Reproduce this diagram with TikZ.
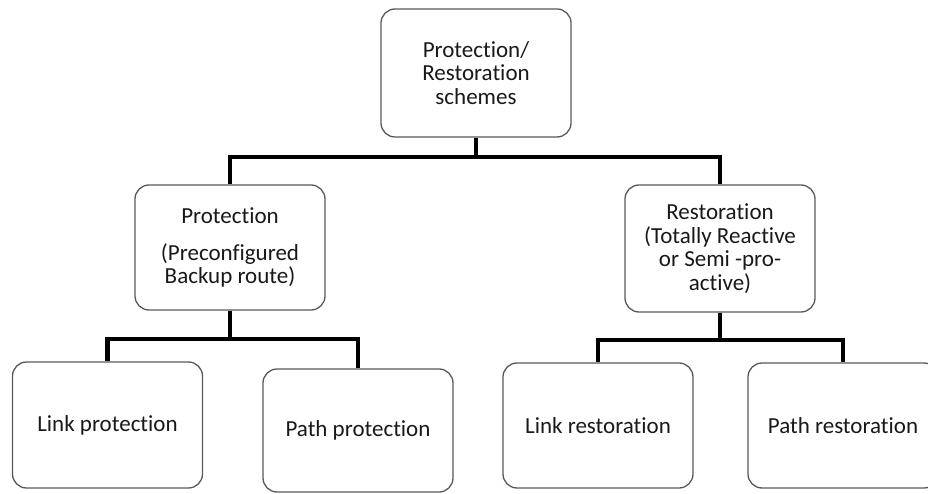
\documentclass[tikz,border=0pt]{standalone}
\usepackage{fontspec}
\setmainfont{Carlito}[Ligatures=NoCommon]
\begin{document}
\begin{tikzpicture}[x=1pt,y=-1pt,
  box/.style={draw=black!65, line width=1.3pt, rounded corners=14pt,
    align=center, inner sep=0pt, text=black!90,
    minimum width=190pt, font=\fontsize{23}{23.5}\selectfont},
  conn/.style={draw=black, line width=4.2pt}]
\useasboundingbox (0,0) rectangle (928,494);
\clip (0,0) rectangle (928,494);

% top level
\node[box, minimum height=128pt] (root) at (476,73)
  {Protection/\\Restoration\\schemes};

% second level
\node[box, minimum height=125pt] (prot) at (230,247.5)
  {Protection\\[13pt](Preconfigured\\Backup route)};
\node[box, minimum height=127pt] (rest) at (720,248.5)
  {Restoration\\(Totally Reactive\\or Semi -pro-\\active)};

% leaves
\node[box, minimum height=126pt] (linkp) at (107.5,425) {Link protection};
\node[box, minimum height=123pt] (pathp) at (358,430.5) {Path protection};
\node[box, minimum height=125pt] (linkr) at (598,425.5) {Link restoration};
\node[box, minimum height=125pt] (pathr) at (843,425.5) {Path restoration};

% bus levels of the tree
\coordinate (busA) at (0,157);
\coordinate (busB) at (0,339);
\coordinate (busC) at (0,340);

\draw[conn] (root.south) -- (root.south |- busA) -| (prot.north);
\draw[conn] (root.south |- busA) -| (rest.north);
\draw[conn] (prot.south) -- (prot.south |- busB) -| (linkp.north);
\draw[conn] (prot.south |- busB) -| (pathp.north);
\draw[conn] (rest.south) -- (rest.south |- busC) -| (linkr.north);
\draw[conn] (rest.south |- busC) -| (pathr.north);
\end{tikzpicture}
\end{document}
